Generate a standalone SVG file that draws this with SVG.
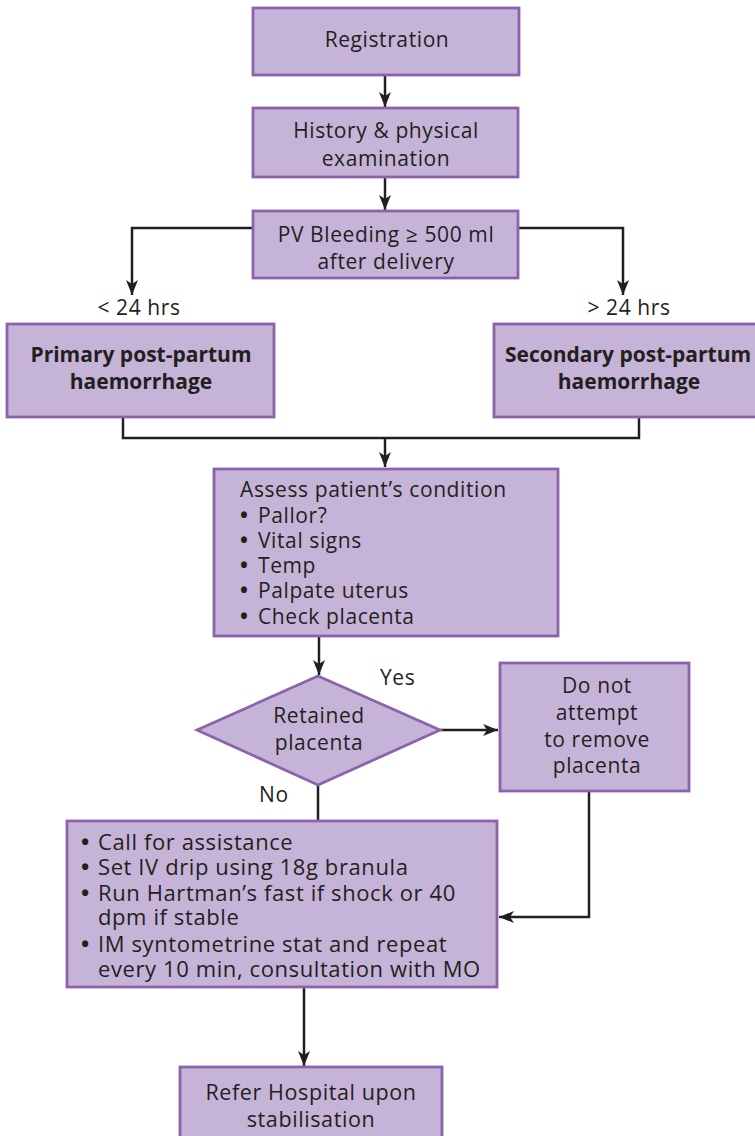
<svg xmlns="http://www.w3.org/2000/svg" width="755" height="1136" viewBox="0 0 755 1136">
<style>
.box{fill:#C6B4D8;stroke:#8D62AD;stroke-width:2.8}
.t{font-family:"Open Sans","Liberation Sans",sans-serif;font-size:21px;fill:#231F20;letter-spacing:0.6px}
.c{text-anchor:middle}
.b{font-weight:bold;letter-spacing:0}
.big{font-size:22px}
.bl{font-weight:bold;letter-spacing:0}
.ln{fill:none;stroke:#231F20;stroke-width:2.5}
</style>
<defs>
<marker id="ah" viewBox="0 0 15 12" refX="15" refY="6" markerWidth="15" markerHeight="12" markerUnits="userSpaceOnUse" orient="auto">
<path d="M0,0 L15,6 L0,12 L4,6 Z" fill="#231F20"/>
</marker>
</defs>
<rect width="755" height="1136" fill="#FFFFFF"/>
<g id="connectors">
<path class="ln" d="M385,76 V107" marker-end="url(#ah)"/>
<path class="ln" d="M385,178 V210" marker-end="url(#ah)"/>
<path class="ln" d="M253,228 H132 V295" marker-end="url(#ah)"/>
<path class="ln" d="M518,228 H623 V295" marker-end="url(#ah)"/>
<path class="ln" d="M123,418 V438 H639 V418"/>
<path class="ln" d="M385,438 V467" marker-end="url(#ah)"/>
<path class="ln" d="M319,637 V675" marker-end="url(#ah)"/>
<path class="ln" d="M440,730 H498" marker-end="url(#ah)"/>
<path class="ln" d="M318,785 V820"/>
<path class="ln" d="M589,792 V917 H499" marker-end="url(#ah)"/>
<path class="ln" d="M304,988 V1066" marker-end="url(#ah)"/>
</g>
<g id="registration">
<rect class="box" x="253" y="8" width="266" height="67"/>
<text class="t c" x="387" y="47">Registration</text>
</g>
<g id="history">
<rect class="box" x="253" y="108" width="265" height="69"/>
<text class="t c" x="386" y="138">History &amp; physical</text>
<text class="t c" x="386" y="166">examination</text>
</g>
<g id="pv-bleeding">
<rect class="box" x="253" y="211" width="265" height="67"/>
<text class="t c" x="386" y="242">PV Bleeding ≥ 500 ml</text>
<text class="t c" x="386" y="269">after delivery</text>
</g>
<g id="label-lt24">
<text class="t c" x="139" y="315">&lt; 24 hrs</text>
</g>
<g id="label-gt24">
<text class="t c" x="629" y="315">&gt; 24 hrs</text>
</g>
<g id="primary">
<rect class="box" x="7" y="324" width="267" height="93"/>
<text class="t c b" x="141" y="362">Primary post-partum</text>
<text class="t c b" x="141" y="389">haemorrhage</text>
</g>
<g id="secondary">
<rect class="box" x="494" y="324" width="270" height="93"/>
<text class="t c b" x="628" y="362">Secondary post-partum</text>
<text class="t c b" x="629" y="389">haemorrhage</text>
</g>
<g id="assess">
<rect class="box" x="214" y="469" width="344" height="167"/>
<text class="t" x="240" y="497">Assess patient’s condition</text>
<text class="t" x="240" y="523"><tspan class="bl">•</tspan><tspan x="258">Pallor?</tspan></text>
<text class="t" x="240" y="548"><tspan class="bl">•</tspan><tspan x="258">Vital signs</tspan></text>
<text class="t" x="240" y="573"><tspan class="bl">•</tspan><tspan x="258">Temp</tspan></text>
<text class="t" x="240" y="598"><tspan class="bl">•</tspan><tspan x="258">Palpate uterus</tspan></text>
<text class="t" x="240" y="624"><tspan class="bl">•</tspan><tspan x="258">Check placenta</tspan></text>
</g>
<g id="retained">
<polygon class="box" points="197,730 318,676 440,730 318,785"/>
<text class="t c" x="319" y="723">Retained</text>
<text class="t c" x="319" y="750">placenta</text>
</g>
<g id="label-yes">
<text class="t" x="380" y="685">Yes</text>
</g>
<g id="label-no">
<text class="t" x="259" y="802">No</text>
</g>
<g id="do-not">
<rect class="box" x="500" y="663" width="189" height="128"/>
<text class="t c" x="597" y="693">Do not</text>
<text class="t c" x="597" y="720">attempt</text>
<text class="t c" x="597" y="747">to remove</text>
<text class="t c" x="597" y="773">placenta</text>
</g>
<g id="actions">
<rect class="box" x="67" y="821" width="430" height="166"/>
<text class="t big" x="81" y="850"><tspan class="bl">•</tspan><tspan x="98">Call for assistance</tspan></text>
<text class="t big" x="81" y="875"><tspan class="bl">•</tspan><tspan x="98">Set IV drip using 18g branula</tspan></text>
<text class="t big" x="81" y="901"><tspan class="bl">•</tspan><tspan x="98">Run Hartman’s fast if shock or 40</tspan></text>
<text class="t big" x="98" y="925">dpm if stable</text>
<text class="t big" x="81" y="952"><tspan class="bl">•</tspan><tspan x="98">IM syntometrine stat and repeat</tspan></text>
<text class="t big" x="98" y="977">every 10 min, consultation with MO</text>
</g>
<g id="refer">
<rect class="box" x="180" y="1067" width="262" height="80"/>
<text class="t c" x="311" y="1100" style="font-size:21.5px">Refer Hospital upon</text>
<text class="t c" x="311" y="1127" style="font-size:21.5px">stabilisation</text>
</g>
</svg>
